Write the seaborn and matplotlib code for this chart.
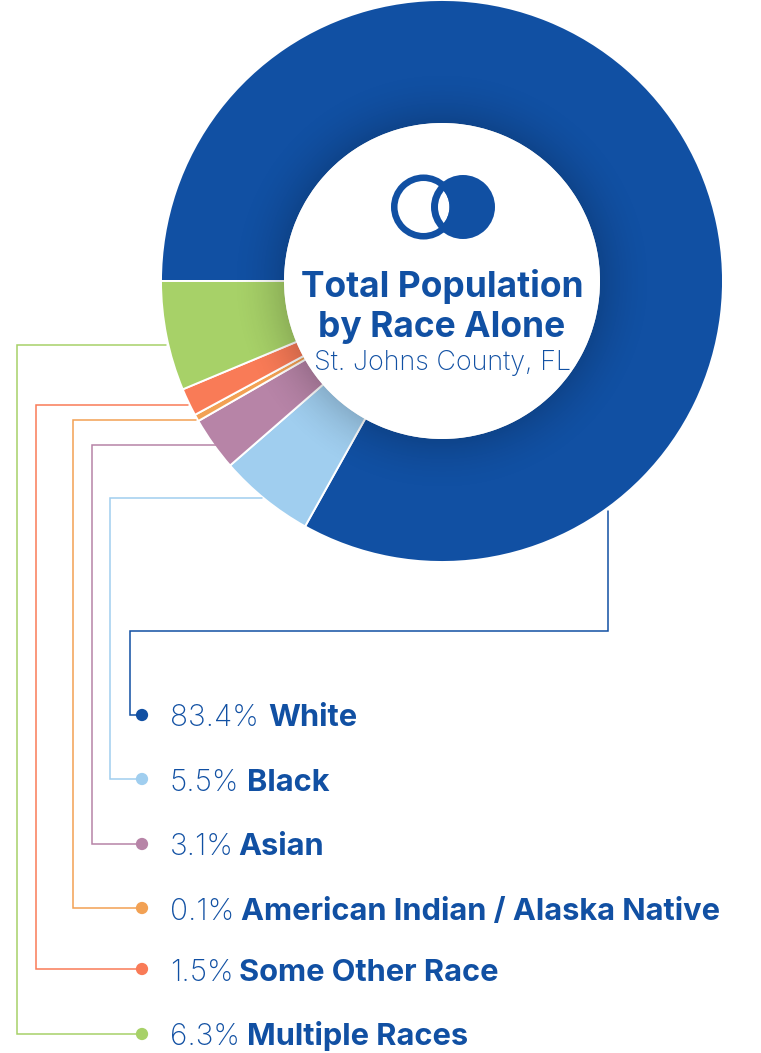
import pandas as pd
import numpy as np
import matplotlib
matplotlib.use('Agg')
import matplotlib.pyplot as plt
import seaborn as sns
from matplotlib.patches import Circle

#-----------------------------------------------
races=['White', 'Black', 'Asian', 'American Indian / Alaska Native', 'Some Other Race', 'Multiple Races']
pct=[83.4, 5.5, 3.1, 0.1, 1.5, 6.3]
#slice shares as drawn, the 0.1 sliver is drawn wider than its label
drawn=[83.1, 5.5, 3.1, 0.4, 1.6, 6.3]
colors=['#1150A3', '#A0CEEF', '#B784A7', '#F2A154', '#F97B57', '#A7D168']

W, H=761, 1053
blue=colors[0]
cx, cy=442, 281
r_out, r_in=281, 157

#legend rows, pixel y
row_y=[715, 779, 844, 908, 969, 1034]
base_y=[726, 791, 855, 920, 981, 1045]
label_x=[268, 247, 238, 241, 239, 247]
#connector elbows, pixels from top left
paths=[
    [(608, 511), (608, 631), (130, 631), (130, 715), (141, 715)],
    [(262, 498), (110, 498), (110, 779), (141, 779)],
    [(226, 445), (92, 445), (92, 844), (141, 844)],
    [(196, 420), (73, 420), (73, 908), (141, 908)],
    [(188, 405), (36, 405), (36, 969), (141, 969)],
    [(166, 345), (17, 345), (17, 1034), (141, 1034)],
]

#######################################################
sns.set_theme(style='white')
plt.rcParams['font.family']=['Inter', 'DejaVu Sans']

def Y(y):
    return H-y

fig=plt.figure(figsize=(W/100, H/100), dpi=100)
ax=fig.add_axes([0, 0, 1, 1])

#donut
ax.pie(drawn, colors=colors, startangle=180, counterclock=False, center=(cx, Y(cy)), radius=r_out,
       wedgeprops={'width': r_out-r_in, 'edgecolor': 'white', 'linewidth': 1.4}, frame=False)

#soft inner shadow, one rgba image so the tint stays even
R=215
gx, gy=np.meshgrid(np.arange(-R, R+1), np.arange(-R, R+1))
rr=np.hypot(gx, gy)
shade=np.zeros(rr.shape+(4,))
shade[..., 3]=0.16*np.clip((R-rr)/(R-r_in), 0, 1)**2
ax.imshow(shade, extent=(cx-R, cx+R, Y(cy)-R, Y(cy)+R), origin='lower', aspect='equal',
          interpolation='bilinear', zorder=3)
ax.add_patch(Circle((cx, Y(cy)), r_in+1, fc='white', ec='none', lw=0, zorder=4))

#icon
c1, c2=(423.5, Y(207)), (463, Y(207))
ax.add_patch(Circle(c2, 32, fc=blue, ec='none', lw=0, zorder=5))
lens=Circle(c2, 25, fc='white', ec='none', lw=0, zorder=6)
ax.add_patch(lens)
clip=Circle(c1, 26, transform=ax.transData)
lens.set_clip_path(clip)
ax.add_patch(Circle(c1, 29.25, fc='none', ec=blue, lw=4.7, zorder=7))

#centre text
ax.text(cx, Y(296.5), 'Total Population', ha='center', va='baseline', fontsize=25.5, weight='bold', color=blue, zorder=8)
ax.text(cx, Y(336.5), 'by Race Alone', ha='center', va='baseline', fontsize=25.5, weight='bold', color=blue, zorder=8)
ax.text(cx, Y(370), 'St. Johns County, FL', ha='center', va='baseline', fontsize=19.4, weight='light', color=blue, zorder=8)

#connectors
for path, c in zip(paths, colors):
    xs=[p[0] for p in path]
    ys=[Y(p[1]) for p in path]
    ax.plot(xs, ys, color=c, lw=1.1, solid_joinstyle='miter', zorder=2)

#legend dots
df=pd.DataFrame({'race': races, 'x': 142, 'y': [Y(v) for v in row_y]})
sns.scatterplot(data=df, x='x', y='y', hue='race', palette=colors, s=78, linewidth=0, legend=False, ax=ax, zorder=5)

#legend text
for race, v, y, lx in zip(races, pct, base_y, label_x):
    ax.text(170, Y(y), f'{v}%', ha='left', va='baseline', fontsize=21.5, weight='light', color=blue)
    ax.text(lx, Y(y), race, ha='left', va='baseline', fontsize=22.2, weight='bold', color=blue)

ax.set_xlim(0, W)
ax.set_ylim(0, H)
ax.set_aspect('equal')
ax.axis('off')

plt.savefig('out.png', dpi=100)
plt.close()
